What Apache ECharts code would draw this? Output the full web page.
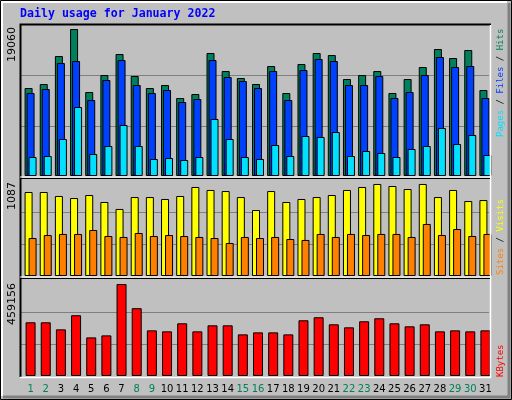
<!DOCTYPE html>
<html>
<head>
<meta charset="utf-8">
<script src="https://cdn.jsdelivr.net/npm/echarts@6/dist/echarts.min.js"></script>
<style>html,body{margin:0;padding:0;background:#c0c0c0}#chart{width:512px;height:400px}</style>
</head>
<body>
<div id="chart"></div>
<script>
const days = ['1','2','3','4','5','6','7','8','9','10','11','12','13','14','15','16','17','18','19','20','21','22','23','24','25','26','27','28','29','30','31'];
const weekend = ['1','2','8','9','15','16','22','23','29','30'];

const hits = [11106,11610,15144,18551,10601,12746,15396,12620,11106,11484,9844,10348,15523,13251,12368,11610,13882,10475,14134,15523,15270,12241,12746,13251,10475,12241,13756,16027,14892,15901,10853];
const files = [10475,10979,14261,14513,9591,12115,14639,11484,10475,10853,9339,9717,14639,12494,11989,11106,13251,9591,13377,14765,14513,11484,11484,12620,9844,10601,12746,15018,13756,13882,9844];
const pages = [2398,2524,4669,8708,2776,3786,6436,3786,2145,2272,2019,2398,7193,4669,2398,2145,3912,2524,5048,4922,5553,2524,3155,2903,2398,3407,3786,6058,4038,5174,2650];
const visits = [951,951,906,883,917,838,759,894,894,872,906,1008,974,962,894,747,962,838,872,894,917,974,1008,1042,1019,985,1042,894,974,849,860];
const sites = [430,464,476,476,521,453,442,487,453,464,453,442,430,374,442,430,442,419,408,476,442,476,464,476,476,442,589,464,532,453,476];
const kbytes = [256864,256864,223151,290577,184621,194253,439880,324291,218334,213518,252048,213518,242415,242415,199070,208702,208702,199070,266496,280945,247232,232783,261680,276129,252048,237599,247232,213518,218334,213518,218334];

const maxHits = 19060;
const maxVisits = 1087;
const maxKbytes = 459156;

const FONT = 'DejaVu Sans';
const panels = [[25, 176], [180, 276], [280, 376]];

function grid(top, bottom) {
  return { left: 23, width: 470, top: top, height: bottom - top };
}

function xAxis(idx, showLabels) {
  return {
    type: 'category', gridIndex: idx, data: days,
    axisLine: { show: false }, axisTick: { show: false },
    axisLabel: showLabels ? {
      margin: 8, interval: 0,
      formatter: (v) => (weekend.includes(v) ? '{w|' + v + '}' : '{d|' + v + '}'),
      rich: { w: { color: '#00805c', fontFamily: FONT, fontSize: 10 }, d: { color: '#000', fontFamily: FONT, fontSize: 10 } },
    } : { show: false },
  };
}

function yAxis(idx, max) {
  return {
    type: 'value', gridIndex: idx, min: 0, max: max,
    axisLine: { show: false }, axisTick: { show: false },
    axisLabel: { show: false }, splitLine: { show: false },
  };
}

function bar(name, data, color, idx, width, gap) {
  return {
    name: name, type: 'bar', data: data, xAxisIndex: idx, yAxisIndex: idx,
    barWidth: width, barGap: gap, silent: true, animation: false,
    itemStyle: { color: color, borderColor: '#000', borderWidth: 1 },
  };
}

const graphics = [];
// outer 3D frame
graphics.push({ type: 'rect', shape: { x: 0.5, y: 0.5, width: 511, height: 399 }, style: { fill: null, stroke: '#000', lineWidth: 1 }, z: 100 });
graphics.push({ type: 'polyline', shape: { points: [[2, 396], [2, 2], [507, 2]] }, style: { fill: null, stroke: '#fff', lineWidth: 2 }, z: 100 });
graphics.push({ type: 'polyline', shape: { points: [[509, 3], [509, 397], [3, 397]] }, style: { fill: null, stroke: '#808080', lineWidth: 3 }, z: 100 });

// grid lines at thirds
panels.forEach(([t, b]) => {
  const h = b - t;
  [1, 2].forEach((k) => {
    const y = Math.round(b - h * k / 3) + 0.5;
    graphics.push({ type: 'line', shape: { x1: 21, y1: y, x2: 489, y2: y }, style: { stroke: '#808080', lineWidth: 1 }, z: -10 });
  });
});
// panel borders
graphics.push({ type: 'polyline', shape: { points: [[20.5, 377], [20.5, 24.5], [491, 24.5]] }, style: { fill: null, stroke: '#000', lineWidth: 2 }, z: 100 });
graphics.push({ type: 'polyline', shape: { points: [[490.5, 25], [490.5, 377.5], [20, 377.5]] }, style: { fill: null, stroke: '#fff', lineWidth: 1.5 }, z: 100 });
[178.5, 278.5].forEach((y) => {
  graphics.push({ type: 'line', shape: { x1: 20, y1: y, x2: 490, y2: y }, style: { stroke: '#000', lineWidth: 1 }, z: 100 });
  graphics.push({ type: 'line', shape: { x1: 20, y1: y - 1.5, x2: 490, y2: y - 1.5 }, style: { stroke: '#fff', lineWidth: 1 }, z: 100 });
});

// title
graphics.push({ type: 'text', left: 20, top: 8, style: { text: 'Daily usage for January 2022', fill: '#0000ff', font: 'bold 11.6px "DejaVu Sans Mono"' } });

// max labels at left
[[String(maxHits), 27], [String(maxVisits), 182], [String(maxKbytes), 283]].forEach(([txt, y]) => {
  graphics.push({ type: 'text', x: 12, y: y, rotation: Math.PI / 2, style: { text: txt, fill: '#000', font: '11px "DejaVu Sans"', align: 'right', verticalAlign: 'middle' } });
});

// series labels at right
function sideLabel(parts, y) {
  const rich = {};
  let text = '';
  parts.forEach(([t, c], i) => {
    rich['p' + i] = { fill: c, font: '9px "DejaVu Sans Mono"' };
    text += '{p' + i + '|' + t + '}';
  });
  graphics.push({ type: 'text', x: 501, y: y, rotation: Math.PI / 2, style: { text: text, rich: rich, align: 'left', verticalAlign: 'middle' } });
}
sideLabel([['Pages', '#00e0ff'], [' / ', '#000'], ['Files', '#0040ff'], [' / ', '#000'], ['Hits', '#00805c']], 137);
sideLabel([['Sites', '#ff8000'], [' / ', '#000'], ['Visits', '#ffff00']], 275);
sideLabel([['KBytes', '#ff0000']], 377);

const option = {
  backgroundColor: '#c0c0c0',
  animation: false,
  grid: panels.map(([t, b]) => grid(t, b)),
  xAxis: [xAxis(0, false), xAxis(1, false), xAxis(2, true)],
  yAxis: [yAxis(0, maxHits), yAxis(1, maxVisits), yAxis(2, maxKbytes)],
  series: [
    bar('Hits', hits, '#00805c', 0, 8, '-75%'),
    bar('Files', files, '#0040ff', 0, 8, '-75%'),
    bar('Pages', pages, '#00e0ff', 0, 8, '-75%'),
    bar('Visits', visits, '#ffff00', 1, 8, '-50%'),
    bar('Sites', sites, '#ff8000', 1, 8, '-50%'),
    bar('KBytes', kbytes, '#ff0000', 2, 10, '0%'),
  ],
  graphic: graphics,
};

const chart = echarts.init(document.getElementById('chart'));
chart.setOption(option);
</script>
</body>
</html>
